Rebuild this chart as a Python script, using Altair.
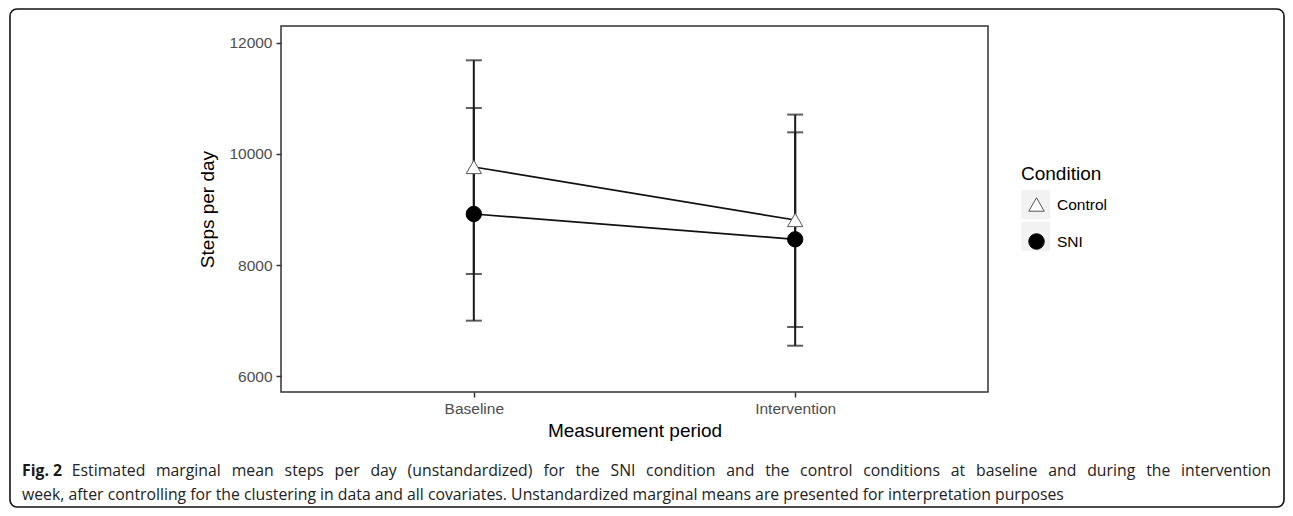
import altair as alt
import pandas as pd

periods = ["Baseline", "Intervention"]
conditions = ["Control", "SNI"]
control_mean = [9766, 8811]
control_lower = [7838, 6883]
control_upper = [11688, 10710]
sni_mean = [8919, 8463]
sni_lower = [6997, 6546]
sni_upper = [10829, 10390]
y_ticks = [6000, 8000, 10000, 12000]

caption_bold = "Fig. 2"
caption_line1 = ("Estimated marginal mean steps per day (unstandardized) for the SNI condition "
                 "and the control conditions at baseline and during the intervention")
caption_line2 = ("week, after controlling for the clustering in data and all covariates. "
                 "Unstandardized marginal means are presented for interpretation purposes")

rows = []
for i, p in enumerate(periods):
    rows.append({"Period": p, "Condition": "Control", "mean": control_mean[i],
                 "lower": control_lower[i], "upper": control_upper[i]})
    rows.append({"Period": p, "Condition": "SNI", "mean": sni_mean[i],
                 "lower": sni_lower[i], "upper": sni_upper[i]})
df = pd.DataFrame(rows)

xenc = alt.X("Period:N", sort=periods,
             scale=alt.Scale(type="point", padding=0.6),
             axis=alt.Axis(title="Measurement period", labelAngle=0))
yscale = alt.Scale(domain=[5712, 12306], nice=False, zero=False)

base = alt.Chart(df)

rules = base.mark_rule(color="#1a1a1a", strokeWidth=2).encode(
    x=xenc,
    y=alt.Y("lower:Q", scale=yscale,
            axis=alt.Axis(title="Steps per day", values=y_ticks, format="d")),
    y2="upper:Q",
)
cap_lo = base.mark_tick(color="#1a1a1a", thickness=2, size=16).encode(
    x=xenc, y=alt.Y("lower:Q", scale=yscale))
cap_hi = base.mark_tick(color="#1a1a1a", thickness=2, size=16).encode(
    x=xenc, y=alt.Y("upper:Q", scale=yscale))

lines = base.mark_line(color="#111111", strokeWidth=1.7).encode(
    x=xenc, y=alt.Y("mean:Q", scale=yscale), detail="Condition:N")

one = pd.DataFrame({"k": [0]})
# legend key backgrounds (ggplot grey95 key boxes)
key1 = alt.Chart(one).mark_rect(fill="#f2f2f2").encode(
    x=alt.value(740), x2=alt.value(769), y=alt.value(164), y2=alt.value(193))
key2 = alt.Chart(one).mark_rect(fill="#f2f2f2").encode(
    x=alt.value(740), x2=alt.value(769), y=alt.value(196), y2=alt.value(225))

legend = alt.Legend(title="Condition", orient="none", legendX=740, legendY=139,
                    padding=0, symbolSize=240, symbolOffset=7, labelOffset=12,
                    rowPadding=17, titlePadding=12, symbolStrokeWidth=1)
points = base.mark_point(filled=True, size=235, strokeWidth=1, opacity=1).encode(
    x=xenc,
    y=alt.Y("mean:Q", scale=yscale),
    shape=alt.Shape("Condition:N", scale=alt.Scale(domain=conditions,
                                                   range=["triangle-up", "circle"]),
                    legend=legend),
    fill=alt.Fill("Condition:N", scale=alt.Scale(domain=conditions,
                                                 range=["white", "black"]),
                  legend=legend),
    stroke=alt.Stroke("Condition:N", scale=alt.Scale(domain=conditions,
                                                     range=["#555555", "black"]),
                      legend=legend),
)

frame = alt.Chart(one).mark_rect(fillOpacity=0, stroke="#111111", strokeWidth=1.6,
                                 cornerRadius=7).encode(
    x=alt.value(-271), x2=alt.value(1003), y=alt.value(-17), y2=alt.value(481))

# ---- caption (justified first line, like the journal layout) ----
cap_font = "Open Sans"
cap_size = 15.8
OX = 281  # page x of plot origin
adv = {  # approximate Open Sans advance widths (units / 2048 em)
    "a": 1139, "b": 1255, "c": 975, "d": 1255, "e": 1149, "f": 694, "g": 1122,
    "h": 1257, "i": 518, "j": 518, "k": 1075, "l": 518, "m": 1905, "n": 1257,
    "o": 1237, "p": 1255, "q": 1255, "r": 836, "s": 977, "t": 723, "u": 1257,
    "v": 1026, "w": 1593, "x": 1073, "y": 1028, "z": 977, "E": 1108, "S": 1096,
    "N": 1520, "I": 608, "U": 1473, "(": 604, ")": 604, ".": 545, ",": 500,
}
def est_w(word):
    return sum(adv.get(ch, 1150) for ch in word) / 2048 * cap_size

left_px, right_px = 22, 1271
bold_w = 39
words = caption_line1.split()
nat = bold_w + sum(est_w(w) for w in words)
gap = (right_px - left_px - nat) / len(words)
word_x = []
cur = left_px + bold_w + gap
for w in words:
    word_x.append(cur)
    cur += est_w(w) + gap

text_layers = [alt.Chart(one).mark_text(text=caption_bold, font=cap_font, fontSize=cap_size,
                                        fontWeight="bold", align="left", baseline="middle",
                                        color="#1a1a1a").encode(
    x=alt.value(left_px - OX), y=alt.value(445))]
for i, (w, xw) in enumerate(zip(words, word_x)):
    if i == len(words) - 1:
        enc = dict(x=alt.value(right_px - OX), y=alt.value(445))
        al = "right"
    else:
        enc = dict(x=alt.value(round(xw - OX, 1)), y=alt.value(445))
        al = "left"
    text_layers.append(alt.Chart(one).mark_text(text=w, font=cap_font, fontSize=cap_size,
                                                align=al, baseline="middle",
                                                color="#222222").encode(**enc))
text_layers.append(alt.Chart(one).mark_text(text=caption_line2, font=cap_font, fontSize=cap_size,
                                            align="left", baseline="middle",
                                            color="#222222").encode(
    x=alt.value(left_px - OX), y=alt.value(469)))

chart = alt.layer(key1, key2, rules, cap_lo, cap_hi, lines, points, frame,
                  *text_layers).properties(
    width=707, height=366,
    autosize=alt.AutoSizeParams(type="none"),
    padding={"left": 273, "top": 18, "right": 297, "bottom": 116},
).configure_view(
    stroke="#333333", strokeWidth=1.5
).configure_axis(
    domain=False, grid=False, tickColor="#333333", tickWidth=1.5, tickSize=5,
    labelFont="Liberation Sans", labelFontSize=15.5, labelColor="#4d4d4d", labelPadding=4,
    titleFont="Liberation Sans", titleFontSize=19, titleFontWeight="normal",
    titleColor="black",
).configure_axisY(titlePadding=11).configure_axisX(titlePadding=5).configure_legend(
    titleFont="Liberation Sans", titleFontSize=19, titleFontWeight="normal",
    titleColor="black", labelFont="Liberation Sans", labelFontSize=15.5, labelColor="black",
)

chart.save("out.html", embed_options={"renderer": "svg", "actions": False})
